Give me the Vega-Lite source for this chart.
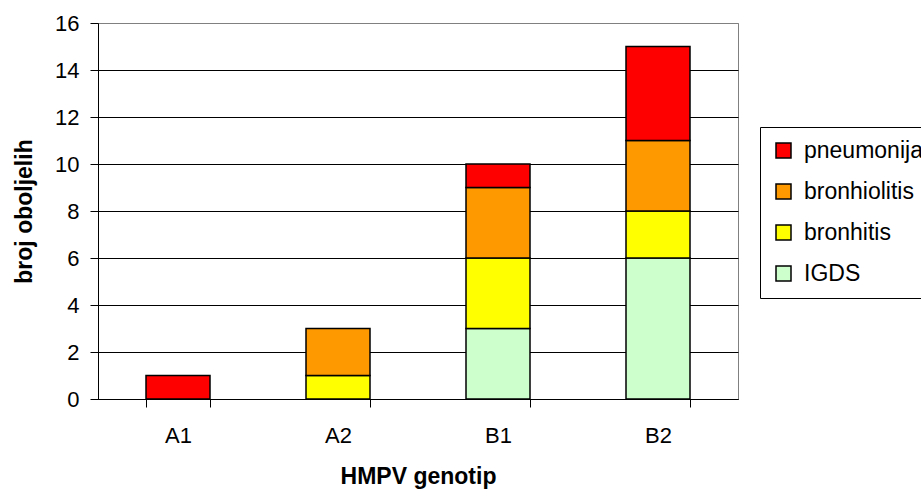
{
  "$schema": "https://vega.github.io/schema/vega-lite/v6.json",
  "width": 640,
  "height": 376,
  "autosize": {"type": "none"},
  "padding": {"left": 98, "top": 23, "right": 183, "bottom": 95},
  "background": "white",
  "config": {"view": {"stroke": "#808080", "strokeWidth": 1}, "font": "Liberation Sans"},
  "data": {
    "values": [
      {"genotip": "A1", "bolest": "pneumonija", "rank": 4, "broj": 1},
      {"genotip": "A2", "bolest": "bronhitis", "rank": 2, "broj": 1},
      {"genotip": "A2", "bolest": "bronhiolitis", "rank": 3, "broj": 2},
      {"genotip": "B1", "bolest": "IGDS", "rank": 1, "broj": 3},
      {"genotip": "B1", "bolest": "bronhitis", "rank": 2, "broj": 3},
      {"genotip": "B1", "bolest": "bronhiolitis", "rank": 3, "broj": 3},
      {"genotip": "B1", "bolest": "pneumonija", "rank": 4, "broj": 1},
      {"genotip": "B2", "bolest": "IGDS", "rank": 1, "broj": 6},
      {"genotip": "B2", "bolest": "bronhitis", "rank": 2, "broj": 2},
      {"genotip": "B2", "bolest": "bronhiolitis", "rank": 3, "broj": 3},
      {"genotip": "B2", "bolest": "pneumonija", "rank": 4, "broj": 4}
    ]
  },
  "mark": {"type": "bar", "stroke": "black", "strokeWidth": 1.5},
  "encoding": {
    "x": {
      "field": "genotip",
      "type": "nominal",
      "sort": ["A1", "A2", "B1", "B2"],
      "scale": {"paddingInner": 0.6, "paddingOuter": 0.3},
      "axis": {
        "title": "HMPV genotip",
        "labelAngle": 0,
        "tickBand": "extent",
        "domainColor": "black",
        "tickColor": "black",
        "tickSize": 8,
        "labelFontSize": 22,
        "labelColor": "black",
        "labelPadding": 18,
        "titleFontSize": 23,
        "titleFontWeight": "bold",
        "titleColor": "black",
        "titlePadding": 19,
        "grid": false
      }
    },
    "y": {
      "field": "broj",
      "type": "quantitative",
      "stack": "zero",
      "scale": {"domain": [0, 16], "nice": false},
      "axis": {
        "title": "broj oboljelih",
        "values": [0, 2, 4, 6, 8, 10, 12, 14, 16],
        "grid": true,
        "gridColor": {"condition": {"test": "datum.value === 16", "value": "#808080"}, "value": "black"},
        "gridWidth": 1,
        "domainColor": "black",
        "tickColor": "black",
        "tickSize": 8,
        "labelFontSize": 22,
        "labelColor": "black",
        "labelPadding": 11,
        "titleFontSize": 23,
        "titleFontWeight": "bold",
        "titleColor": "black",
        "titlePadding": 18
      }
    },
    "color": {
      "field": "bolest",
      "type": "nominal",
      "scale": {
        "domain": ["pneumonija", "bronhiolitis", "bronhitis", "IGDS"],
        "range": ["#FF0000", "#FF9900", "#FFFF00", "#CCFFCC"]
      },
      "legend": {
        "title": null,
        "orient": "none",
        "legendX": 662,
        "legendY": 104,
        "strokeColor": "black",
        "fillColor": "white",
        "padding": 12,
        "symbolType": "square",
        "symbolSize": 225,
        "symbolStrokeColor": "black",
        "symbolStrokeWidth": 1.5,
        "labelFontSize": 23,
        "labelColor": "black",
        "labelOffset": 9,
        "labelLimit": 300,
        "rowPadding": 17
      }
    },
    "order": {"field": "rank", "type": "quantitative"}
  }
}
